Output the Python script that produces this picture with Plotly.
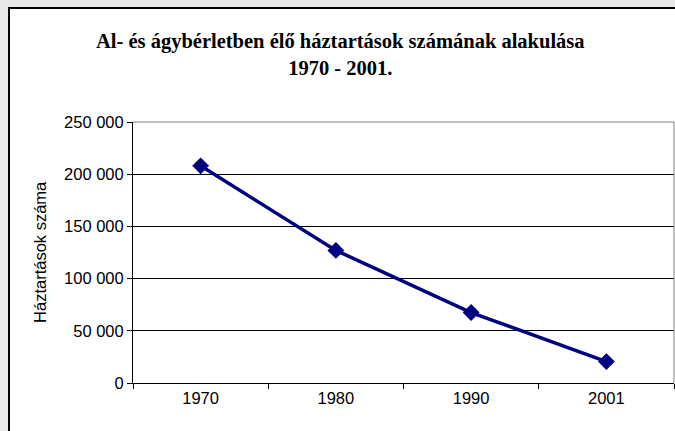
import plotly.graph_objects as go

years = ["1970", "1980", "1990", "2001"]
households = [208000, 127000, 67500, 20500]
y_tick_vals = [0, 50000, 100000, 150000, 200000, 250000]
y_tick_text = ["0", "50 000", "100 000", "150 000", "200 000", "250 000"]

title_line1 = "Al- és ágybérletben élő háztartások számának alakulása"
title_line2 = "1970 - 2001."
y_title = "Háztartások száma"

fig = go.Figure()
fig.add_trace(go.Scatter(
    x=years, y=households, mode="lines+markers",
    line=dict(color="#000080", width=3.5),
    marker=dict(symbol="diamond", size=13, color="#000080"),
    cliponaxis=False,
))

fig.update_layout(
    width=675, height=431,
    margin=dict(l=133, r=1, t=122, b=48),
    paper_bgcolor="#e9e9e9",
    plot_bgcolor="white",
    showlegend=False,
    font=dict(family="Liberation Sans, Arial", size=16.5, color="black"),
    shapes=[dict(type="rect", xref="paper", yref="paper",
                 x0=-0.2292, x1=1.02, y0=-0.3, y1=1.4368,
                 line=dict(color="black", width=2), fillcolor="white",
                 layer="below")],
    annotations=[
        dict(text="<b>" + title_line1 + "<br>" + title_line2 + "</b>",
             xref="paper", yref="paper", x=0.383, y=1.257,
             xanchor="center", yanchor="middle", showarrow=False,
             font=dict(family="Liberation Serif, Times New Roman", size=20.5, color="black")),
        dict(text=y_title, textangle=-90,
             xref="paper", yref="paper", x=-0.172, y=0.502,
             xanchor="center", yanchor="middle", showarrow=False,
             font=dict(family="Liberation Sans, Arial", size=16.5, color="black")),
    ],
)
fig.update_xaxes(
    type="category", range=[-0.5, 3.5],
    tickson="boundaries", ticks="outside", ticklen=5, tickcolor="black",
    showgrid=False, showline=True, linecolor="black", linewidth=1,
)
fig.update_yaxes(
    range=[0, 250000], tickvals=y_tick_vals, ticktext=y_tick_text,
    ticks="outside", ticklen=5, tickcolor="black",
    showgrid=True, gridcolor="black", gridwidth=1,
    showline=True, linecolor="black", linewidth=1, zeroline=False,
)
# gray plot-area border on top and right
fig.add_shape(type="line", xref="paper", yref="paper", x0=1, x1=1, y0=0, y1=1,
              line=dict(color="#808080", width=1))
fig.add_shape(type="line", xref="paper", yref="paper", x0=0, x1=1, y0=1, y1=1,
              line=dict(color="#808080", width=1))

html = fig.to_html(config={"displayModeBar": False}, include_plotlyjs=True, full_html=True)
html = html.replace("<head>", "<head><style>html,body{margin:0;padding:0;overflow:hidden;}</style>", 1)
with open("out.html", "w", encoding="utf-8") as f:
    f.write(html)
